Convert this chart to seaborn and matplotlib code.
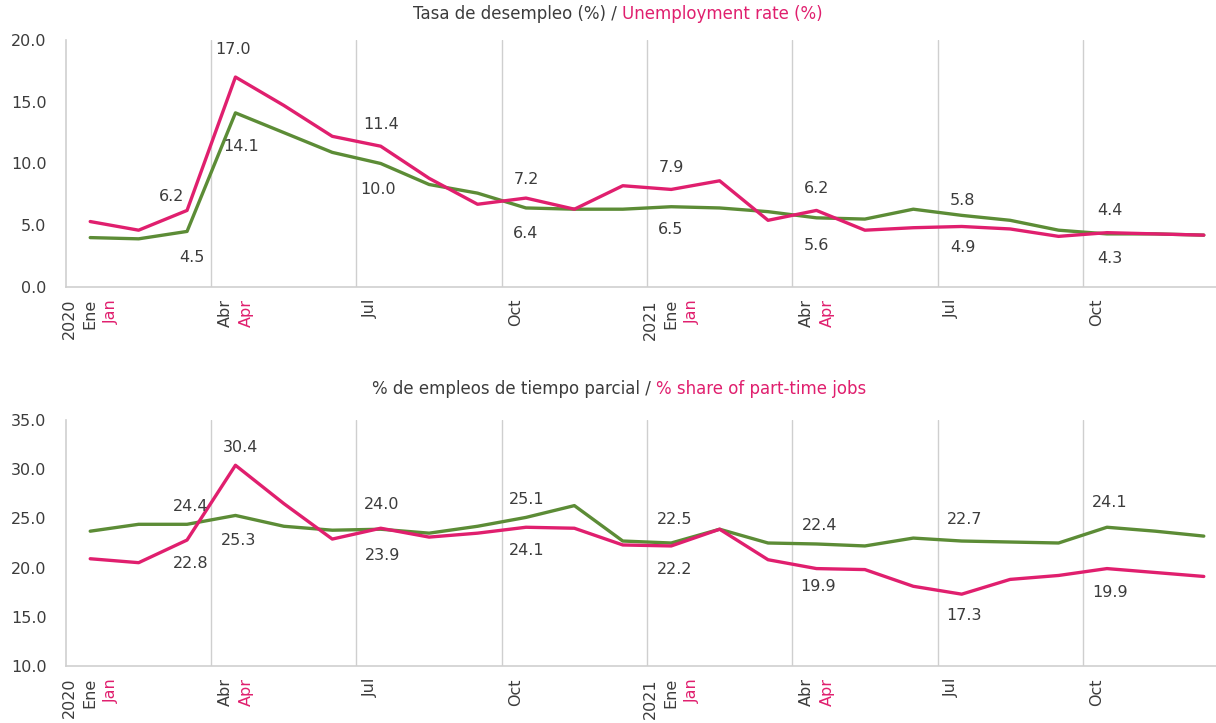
import matplotlib
matplotlib.use("Agg")
import matplotlib.pyplot as plt
import seaborn as sns
import pandas as pd
import numpy as np

# meses ene-2020 .. dic-2021
months = list(range(24))

# tasa de desempleo (%)
unemp_pink = [5.3, 4.6, 6.2, 17.0, 14.7, 12.2, 11.4, 8.8, 6.7, 7.2, 6.3, 8.2,
              7.9, 8.6, 5.4, 6.2, 4.6, 4.8, 4.9, 4.7, 4.1, 4.4, 4.3, 4.2]
unemp_green = [4.0, 3.9, 4.5, 14.1, 12.5, 10.9, 10.0, 8.3, 7.6, 6.4, 6.3, 6.3,
               6.5, 6.4, 6.1, 5.6, 5.5, 6.3, 5.8, 5.4, 4.6, 4.3, 4.3, 4.2]

# % empleos de tiempo parcial
part_pink = [20.9, 20.5, 22.8, 30.4, 26.5, 22.9, 24.0, 23.1, 23.5, 24.1, 24.0, 22.3,
             22.2, 23.9, 20.8, 19.9, 19.8, 18.1, 17.3, 18.8, 19.2, 19.9, 19.5, 19.1]
part_green = [23.7, 24.4, 24.4, 25.3, 24.2, 23.8, 23.9, 23.5, 24.2, 25.1, 26.3, 22.7,
              22.5, 23.9, 22.5, 22.4, 22.2, 23.0, 22.7, 22.6, 22.5, 24.1, 23.7, 23.2]

labeled_months = [2, 3, 6, 9, 12, 15, 18, 21]

tick_pos = [0, 3, 6, 9, 12, 15, 18, 21]
tick_lines = [["2020", "Ene", "Jan"], ["Abr", "Apr"], ["Jul"], ["Oct"],
              ["2021", "Ene", "Jan"], ["Abr", "Apr"], ["Jul"], ["Oct"]]

title_es = ["Tasa de desempleo (%) / ", "% de empleos de tiempo parcial / "]
title_en = ["Unemployment rate (%)", "% share of part-time jobs"]

PINK = "#E01F6E"
GREEN = "#5C8C36"
DARK = "#3c3c3c"
GRID = "#cfcfcf"

sns.set_theme(style="white")
plt.rcParams['font.family'] = ['DejaVu Sans']

fig = plt.figure(figsize=(12.16, 7.23), dpi=100)
ax1 = fig.add_axes([66 / 1216, 1 - 287 / 723, 1162 / 1216, 247 / 723])
ax2 = fig.add_axes([66 / 1216, 1 - 666 / 723, 1162 / 1216, 246 / 723])

# offsets de etiquetas (pixeles) por mes etiquetado: (dx, dy) rosa, verde
top_offs_pink = [(-15, 14), (-2, 28), (0, 22), (0, 19), (0, 22), (0, 22), (1, -21), (3, 22)]
top_offs_green = [(5, -26), (6, -34), (-3, -26), (0, -26), (-1, -23), (0, -28), (1, 15), (3, -25)]
bot_offs_pink = [(4, -23), (5, 18), (1, 24), (1, -23), (3, -24), (2, -18), (2, -21), (3, -24)]
bot_offs_green = [(4, 18), (3, -25), (2, -26), (1, 18), (3, 24), (3, 18), (3, 22), (3, 25)]

panels = [
    (ax1, unemp_pink, unemp_green, (0, 20), top_offs_pink, top_offs_green),
    (ax2, part_pink, part_green, (10, 35), bot_offs_pink, bot_offs_green),
]

for k, (ax, pink, green, ylim, offp, offg) in enumerate(panels):
    df = pd.DataFrame({"mes": months, "pink": pink, "green": green})
    sns.lineplot(data=df, x="mes", y="green", color=GREEN, linewidth=2.4, ax=ax)
    sns.lineplot(data=df, x="mes", y="pink", color=PINK, linewidth=2.4, ax=ax)

    ax.set_xlim(-0.5, 23.5)
    ax.set_ylim(*ylim)
    ax.set_yticks(np.arange(ylim[0], ylim[1] + 0.1, 5))
    ax.set_yticklabels(["%.1f" % v for v in np.arange(ylim[0], ylim[1] + 0.1, 5)])
    ax.tick_params(axis="y", length=0, pad=14, labelsize=11.5, labelcolor=DARK)
    ax.set_xticks([])
    ax.set_xticks([2.5, 5.5, 8.5, 11.5, 14.5, 17.5, 20.5], minor=True)
    ax.tick_params(axis="x", which="minor", length=0)
    ax.grid(True, axis="x", which="minor", color=GRID, linewidth=1)
    ax.set_xlabel("")
    ax.set_ylabel("")
    for s in ["top", "right"]:
        ax.spines[s].set_visible(False)
    for s in ["left", "bottom"]:
        ax.spines[s].set_color(GRID)
        ax.spines[s].set_linewidth(1.2)

    # etiquetas de datos
    for j, m in enumerate(labeled_months):
        ax.annotate("%.1f" % pink[m], xy=(m, pink[m]), xytext=offp[j],
                    textcoords="offset pixels", ha="center", va="center",
                    fontsize=11.5, color=DARK)
        ax.annotate("%.1f" % green[m], xy=(m, green[m]), xytext=offg[j],
                    textcoords="offset pixels", ha="center", va="center",
                    fontsize=11.5, color=DARK)

    # etiquetas del eje x (multilinea, bicolor)
    for p, lines in zip(tick_pos, tick_lines):
        n = len(lines)
        for i, txt in enumerate(lines):
            dx = (i - (max(n, 2) - 1) / 2) * 21
            col = PINK if (n > 1 and i == n - 1) else DARK
            ax.annotate(txt, xy=(p, 0), xycoords=("data", "axes fraction"),
                        xytext=(dx, -12), textcoords="offset pixels",
                        rotation=90, ha="center", va="top", fontsize=11.5,
                        color=col, annotation_clip=False)

    # titulo bicolor
    ty = 1 - (14 if k == 0 else 389) / 723
    tx = (622 if k == 0 else 656) / 1216
    fig.text(tx, ty, title_es[k], ha="right", va="center", fontsize=12, color=DARK)
    fig.text(tx, ty, title_en[k], ha="left", va="center", fontsize=12, color=PINK)

fig.savefig("out.png", dpi=100)
